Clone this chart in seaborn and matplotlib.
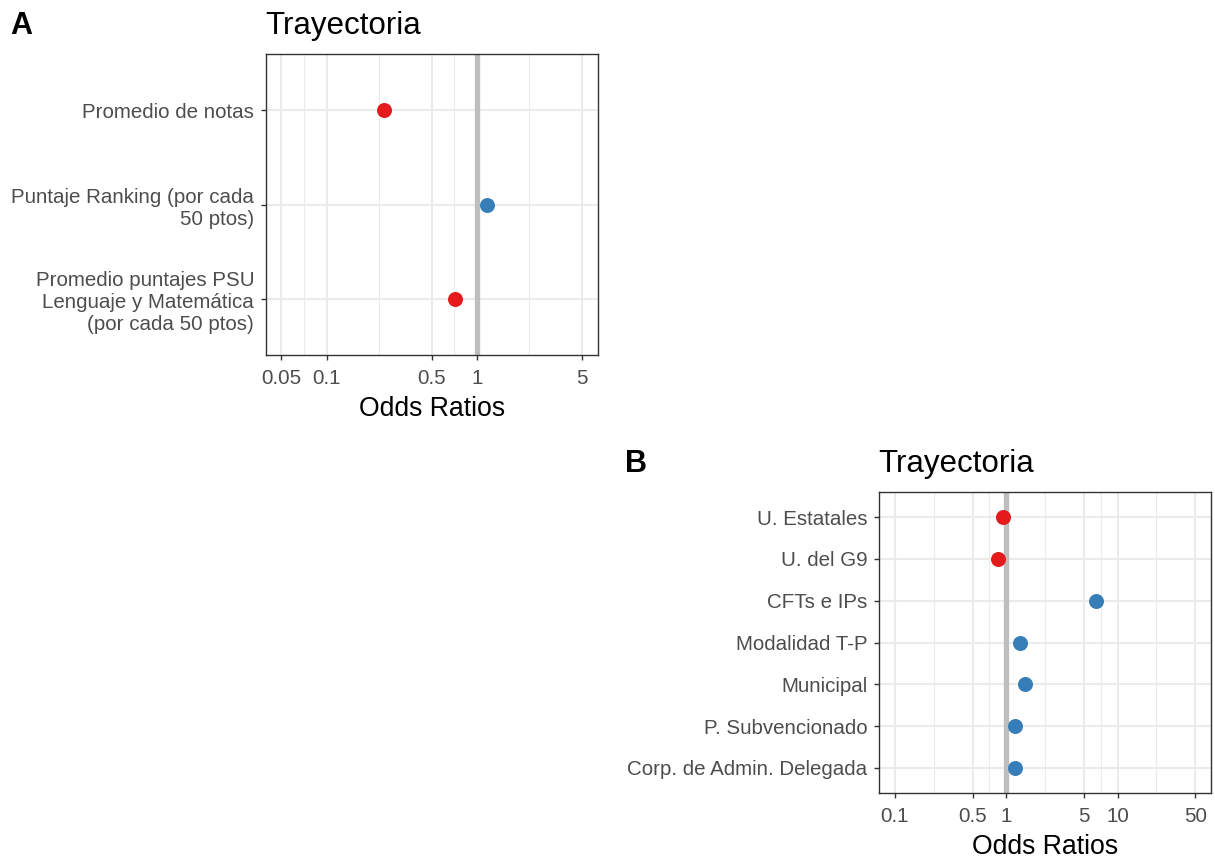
import numpy as np
import pandas as pd
import matplotlib
matplotlib.use("Agg")
import matplotlib.pyplot as plt
import seaborn as sns
from matplotlib.ticker import FixedLocator, NullFormatter

# ---------------- data ----------------
labels_a = [
    "Promedio de notas",
    "Puntaje Ranking (por cada\n50 ptos)",
    "Promedio puntajes PSU\nLenguaje y Matemática\n(por cada 50 ptos)",
]
or_a = [0.24, 1.17, 0.715]

labels_b = [
    "U. Estatales",
    "U. del G9",
    "CFTs e IPs",
    "Modalidad T-P",
    "Municipal",
    "P. Subvencionado",
    "Corp. de Admin. Delegada",
]
or_b = [0.93, 0.84, 6.35, 1.335, 1.49, 1.19, 1.19]

ticks_a = [0.05, 0.1, 0.5, 1, 5]
ticks_b = [0.1, 0.5, 1, 5, 10, 50]
tick_labels_a = ["0.05", "0.1", "0.5", "1", "5"]
tick_labels_b = ["0.1", "0.5", "1", "5", "10", "50"]
xlim_a = (0.0395, 6.4)
xlim_b = (0.0723, 69.0)

title = "Trayectoria"
xlabel = "Odds Ratios"

# ---------------- style ----------------
sns.set_theme(style="white")
plt.rcParams["font.family"] = ["Liberation Sans", "DejaVu Sans"]

RED = "#E41A1C"
BLUE = "#377EB8"
GRID = "#EBEBEB"
FRAME = "#333333"
TXT = "#4D4D4D"

W, H = 1215, 860
fig = plt.figure(figsize=(W / 100, H / 100), dpi=100)
fig.patch.set_facecolor("white")


def px_axes(l, t, r, b):
    return fig.add_axes([l / W, 1 - b / H, (r - l) / W, (b - t) / H])


def draw_panel(ax, labels, vals, ticks, tlabels, xlim, letter, letter_x):
    df = pd.DataFrame({"label": labels, "OR": vals})
    df["dir"] = np.where(df["OR"] < 1, "neg", "pos")
    ax.axvline(1, color="#BEBEBE", lw=3.8, zorder=1.5)
    sns.stripplot(data=df, x="OR", y="label", hue="dir", order=labels,
                  hue_order=["neg", "pos"], palette={"neg": RED, "pos": BLUE},
                  jitter=False, size=10.8, linewidth=0, legend=False,
                  ax=ax, zorder=3)
    ax.set_xscale("log")
    ax.set_xlim(*xlim)
    n = len(labels)
    ax.set_ylim(n - 1 + 0.6, -0.6)
    ax.xaxis.set_major_locator(FixedLocator(ticks))
    ax.set_xticklabels(tlabels)
    lt = np.log10(ticks)
    step = lt[1:] - lt[:-1]
    mids = list(10 ** ((lt[:-1] + lt[1:]) / 2))
    mids = [10 ** (lt[0] - step[0] / 2)] + mids + [10 ** (lt[-1] + step[-1] / 2)]
    ax.xaxis.set_minor_locator(FixedLocator(mids))
    ax.xaxis.set_minor_formatter(NullFormatter())
    ax.grid(True, which="major", color=GRID, lw=1.5, zorder=0)
    ax.grid(True, which="minor", axis="x", color=GRID, lw=0.8, zorder=0)
    ax.set_axisbelow(True)
    for s in ax.spines.values():
        s.set_color(FRAME)
        s.set_linewidth(1.0)
        s.set_visible(True)
    ax.tick_params(axis="both", which="major", direction="out", length=3.5,
                   width=1.0, color=FRAME, labelcolor=TXT, labelsize=14.8,
                   pad=5, left=True, bottom=True)
    ax.tick_params(axis="x", which="major", pad=6.5)
    ax.tick_params(axis="x", which="minor", length=0)
    for t in ax.get_yticklabels():
        t.set_linespacing(1.2)
        t.set_horizontalalignment("right")
    ax.set_ylabel("")
    ax.set_xlabel(xlabel, fontsize=19.2, color="black", labelpad=6)
    bb = ax.get_position()
    ytitle = bb.y1 + 20 / H
    fig.text(bb.x0 - 1 / W, ytitle, title, fontsize=22.5, color="black",
             ha="left", va="baseline")
    fig.text(letter_x / W, ytitle, letter, fontsize=22, fontweight="bold",
             color="black", ha="left", va="baseline")


ax_a = px_axes(266, 54, 598, 355)
draw_panel(ax_a, labels_a, or_a, ticks_a, tick_labels_a, xlim_a, "A", 10)

ax_b = px_axes(879, 492, 1211, 793)
draw_panel(ax_b, labels_b, or_b, ticks_b, tick_labels_b, xlim_b, "B", 625)

fig.savefig("out.png", dpi=100, facecolor="white")
